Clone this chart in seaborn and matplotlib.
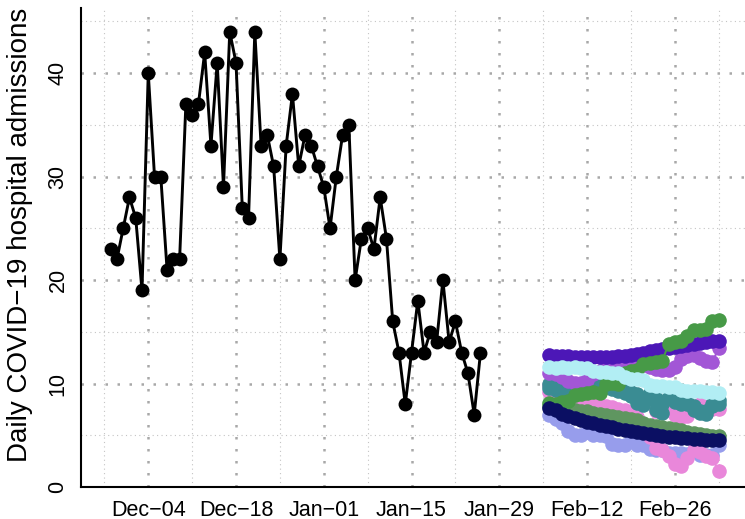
import numpy as np
import pandas as pd
import matplotlib
matplotlib.use("Agg")
import matplotlib.pyplot as plt
import matplotlib.dates as mdates
from matplotlib.ticker import FixedLocator
import seaborn as sns

# ---------------- data ----------------
obs_start = "2022-11-28"
observed = [23, 22, 25, 28, 26, 19, 40, 30, 30, 21, 22, 22, 37, 36, 37, 42, 33, 41, 29, 44,
            41, 27, 26, 44, 33, 34, 31, 22, 33, 38, 31, 34, 33, 31, 29, 25, 30, 34, 35, 20,
            24, 25, 23, 28, 24, 16, 13, 8, 13, 18, 13, 15, 14, 20, 14, 16, 13, 11, 7, 13]

fc_start = "2023-02-06"
fc_periwinkle = [7.0, 6.6, 6.2, 5.4, 5.0, 5.0, 5.3, 5.0, 5.0, 4.9, 4.2, 4.1, 4.1, 4.4,
                 4.1, 4.1, 3.7, 3.6, 3.6, 3.3, 3.3, 3.3, 3.2, 3.6, 3.1, 3.1, 3.1, 4.1]
fc_pink_a = [9.9, 9.7, 9.3, 8.7, 8.3, 7.9, 7.6, 7.3, 7.5, 7.3, 7.0, 6.8, 6.6, 6.5,
             6.2, 5.8, 4.8, 3.8, 3.6, 3.0, 2.2, 2.0, 2.8, 3.6, 3.4, 3.0, 2.8, 1.5]
fc_pink_b = [9.2, 9.0, 8.8, 8.7, 8.5, 8.3, 8.2, 8.1, 7.9, 7.8, 7.7, 7.5, 7.4, 7.1,
             6.8, 6.0, 5.7, 7.3, 7.6, 7.4, 7.0, 6.8, 6.9, 7.6, 8.0, 7.7, 7.5, 7.5]
fc_teal_a = [10.0, 10.0, 10.1, 10.0, 9.8, 10.0, 10.1, 10.1, 10.0, 9.8, 9.7, 9.6, 9.5, 9.2,
             9.0, 8.2, 9.1, 8.6, 8.0, 8.7, 8.4, 8.1, 8.0, 7.8, 7.2, 7.3, 8.0, 8.4]
fc_teal_b = [9.6, 9.4, 9.3, 9.2, 9.3, 9.5, 9.7, 9.6, 9.6, 9.7, 9.5, 9.3, 9.1, 8.8,
             8.1, 7.9, 8.5, 7.4, 7.2, 8.6, 8.2, 8.0, 8.2, 7.4, 7.3, 7.1, 7.8, 8.0]
fc_sage = [7.8, 7.7, 7.6, 7.5, 7.4, 7.3, 7.3, 7.2, 7.1, 7.0, 6.9, 6.8, 6.7, 6.6,
           6.5, 6.2, 6.0, 5.9, 5.8, 5.7, 5.6, 5.5, 5.3, 5.2, 5.1, 5.0, 4.9, 4.9]
fc_medpurple = [11.0, 10.9, 10.6, 10.2, 10.1, 10.1, 10.3, 10.9, 11.2, 11.4, 11.5, 11.6, 11.7, 11.7,
                11.8, 11.8, 11.6, 11.4, 11.3, 11.3, 11.6, 12.4, 12.7, 12.8, 12.5, 12.2, 12.1, 13.4]
fc_purple = [12.8, 12.7, 12.7, 12.7, 12.6, 12.6, 12.6, 12.6, 12.6, 12.6, 12.6, 12.7, 12.7, 12.8,
             12.9, 13.0, 13.1, 13.2, 13.3, 13.4, 13.5, 13.6, 13.7, 13.8, 13.9, 14.0, 14.1, 14.1]
fc_green = [8.1, 8.0, 8.2, 8.3, 8.9, 9.0, 9.1, 9.2, 9.1, 10.0, 10.1, 10.0, 11.0, 11.2,
            11.3, 11.9, 12.0, 12.1, 12.2, 13.8, 14.0, 14.1, 14.6, 15.2, 15.2, 15.3, 16.0, 16.1]
fc_cyan = [11.6, 11.5, 11.6, 11.5, 11.6, 11.5, 11.5, 11.2, 11.1, 11.1, 11.0, 11.0, 10.6, 10.4,
           10.4, 10.3, 9.9, 9.8, 9.8, 9.7, 9.7, 9.4, 9.3, 9.3, 9.3, 9.2, 9.2, 9.1]
fc_navy = [7.6, 7.4, 7.1, 6.9, 6.7, 6.5, 6.3, 6.2, 6.0, 5.9, 5.8, 5.6, 5.5, 5.4,
           5.3, 5.2, 5.1, 5.0, 4.9, 4.8, 4.8, 4.7, 4.7, 4.6, 4.6, 4.5, 4.5, 4.5]

series_names = ["periwinkle", "pink_a", "pink_b", "teal_a", "teal_b", "sage",
                "medpurple", "purple", "green", "cyan", "navy"]
series_values = [fc_periwinkle, fc_pink_a, fc_pink_b, fc_teal_a, fc_teal_b, fc_sage,
                 fc_medpurple, fc_purple, fc_green, fc_cyan, fc_navy]
series_colors = ["#979DEC", "#E987DA", "#E987DA", "#3A8C93", "#3A8C93", "#5F9660",
                 "#A256D6", "#4C17B7", "#479A47", "#B2EEF4", "#0B0F63"]

tick_dates = ["2022-12-04", "2022-12-18", "2023-01-01", "2023-01-15",
              "2023-01-29", "2023-02-12", "2023-02-26"]
tick_labels = ["Dec\u221204", "Dec\u221218", "Jan\u221201", "Jan\u221215",
               "Jan\u221229", "Feb\u221212", "Feb\u221226"]
minor_dates = ["2022-11-27", "2022-12-11", "2022-12-25", "2023-01-08",
               "2023-01-22", "2023-02-05", "2023-02-19", "2023-03-05"]
y_major = [0, 10, 20, 30, 40]
y_minor = [5, 15, 25, 35, 45]
ylabel = "Daily COVID\u221219 hospital admissions"

# ---------------- frames ----------------
obs_df = pd.DataFrame({"date": pd.date_range(obs_start, periods=len(observed), freq="D"),
                       "value": observed})
frames = []
for name, vals in zip(series_names, series_values):
    frames.append(pd.DataFrame({"date": pd.date_range(fc_start, periods=len(vals), freq="D"),
                                "value": vals, "series": name}))
fc_df = pd.concat(frames, ignore_index=True)
palette = dict(zip(series_names, series_colors))

# ---------------- plot ----------------
sns.set_theme(style="white")
plt.rcParams["font.family"] = ["Liberation Sans", "DejaVu Sans"]

fig = plt.figure(figsize=(7.45, 5.19), dpi=100)
ax = fig.add_axes([81 / 745, (519 - 487) / 519, 1 - 81 / 745, (487 - 8) / 519])

sns.lineplot(data=fc_df, x="date", y="value", hue="series", hue_order=series_names,
             palette=palette, marker="o", markersize=10.5, markeredgewidth=0,
             linewidth=1.5, legend=False, errorbar=None, ax=ax)
sns.lineplot(data=obs_df, x="date", y="value", color="black", marker="o",
             markersize=10, markeredgewidth=0, linewidth=2.1, errorbar=None, ax=ax)

d0 = mdates.date2num(pd.Timestamp("2022-12-04"))
ax.set_xlim(d0 - 10.73, d0 + 95.2)
ax.set_ylim(0, 46.3)

ax.xaxis.set_major_locator(FixedLocator(mdates.date2num(pd.to_datetime(tick_dates))))
ax.set_xticklabels(tick_labels)
ax.xaxis.set_minor_locator(FixedLocator(mdates.date2num(pd.to_datetime(minor_dates))))
ax.set_yticks(y_major)
ax.set_yticklabels([str(v) for v in y_major])
ax.yaxis.set_minor_locator(FixedLocator(y_minor))

ax.grid(True, which="major", color="#A8A8A8", linestyle=(0, (1, 3.8)), linewidth=1.8)
ax.grid(True, which="minor", color="#C4C4C4", linestyle=(0, (1, 3)), linewidth=0.8)
ax.set_axisbelow(True)

for s in ["top", "right"]:
    ax.spines[s].set_visible(False)
for s in ["left", "bottom"]:
    ax.spines[s].set_color("black")
    ax.spines[s].set_linewidth(1.5)

ax.tick_params(which="major", direction="out", length=5, width=1.5, color="black",
               labelsize=15.5, labelcolor="black", pad=4)
ax.tick_params(which="minor", length=0)
ax.tick_params(axis="y", labelrotation=90)
for lab in ax.get_yticklabels():
    lab.set_va("center")

ax.set_xlabel("")
ax.set_ylabel(ylabel, fontsize=20, color="black")
ax.yaxis.set_label_coords(-0.072, 0.527)

fig.savefig("out.png", dpi=100)
